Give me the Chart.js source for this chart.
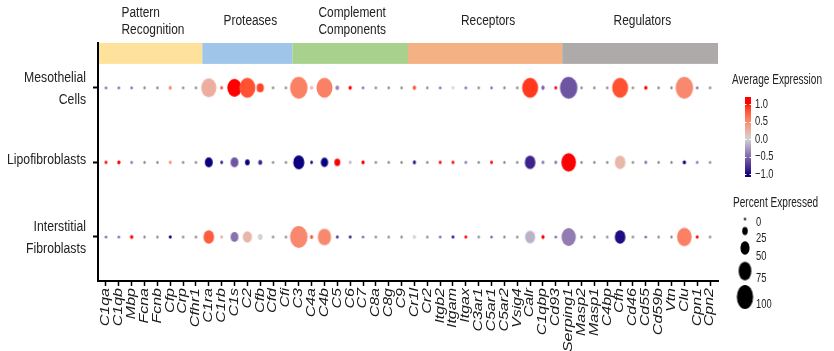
<!DOCTYPE html>
<html>
<head>
<meta charset="utf-8">
<title>Complement gene dot plot</title>
<script src="https://cdn.jsdelivr.net/npm/chart.js"></script>
<style>
  body { margin: 0; background: #fff; }
  #wrap { width: 834px; height: 351px; position: relative; }
</style>
</head>
<body>
<div id="wrap"><canvas id="dotPlot"></canvas></div>
<script>
// ---- data ----
const genes = ['C1qa','C1qb','Mbp','Fcna','Fcnb','Cfp','Crp','Cfhr1',
  'C1ra','C1rb','C1s','C2','Cfb','Cfd','Cfi',
  'C3','C4a','C4b','C5','C6','C7','C8a','C8g','C9',
  'Cr1l','Cr2','Itgb2','Itgam','Itgax','C3ar1','C5ar1','C5ar2','Vsig4','Calr','C1qbp','Cd93',
  'Serping1','Masp2','Masp1','C4bp','Cfh','Cd46','Cd55','Cd59b','Vtn','Clu','Cpn1','Cpn2'];

const groupNames = [['Pattern','Recognition'], ['Proteases'], ['Complement','Components'], ['Receptors'], ['Regulators']];
const groupSizes = [8, 7, 9, 12, 12];
const groupColors = ['#FEE29B', '#9FC5E8', '#A9D18E', '#F4B183', '#AEAAAA'];

const cellTypes = [['Mesothelial','Cells'], ['Lipofibroblasts'], ['Interstitial','Fibroblasts']];

// average expression (null = not detected, drawn grey)
const exprMeso = [-0.5,-0.5,-0.5,null,null,0.5,null,null,
  0.25,0.8,1.0,0.8,0.85,null,null,
  0.55,0.2,0.55,-0.4,1.0,-0.5,null,null,null,
  0.8,null,-0.5,0.0,-0.5,null,-0.5,null,null,0.9,-0.5,1.0,
  -0.6,null,null,null,0.8,null,1.0,null,null,0.5,-0.5,null];
const exprLipo = [1.0,1.0,-0.5,null,null,0.5,null,null,
  -1.0,-0.9,-0.6,-1.0,-0.85,null,null,
  -1.0,-1.0,-1.0,1.0,-0.15,1.0,null,null,null,
  -0.95,null,1.0,1.0,-0.5,null,1.0,null,null,-0.85,-0.5,-0.5,
  1.0,null,null,null,0.2,null,-0.5,null,null,-1.0,-0.5,null];
const exprInter = [-0.5,-0.5,1.0,null,null,-1.0,null,null,
  0.75,0.2,-0.45,0.2,0.0,null,null,
  0.5,0.8,0.5,-0.7,-0.8,-0.5,null,null,null,
  0.0,null,-0.5,-0.9,1.0,null,-0.5,null,null,-0.15,1.0,-0.5,
  -0.4,null,null,null,-0.95,null,-0.5,null,null,0.55,1.0,null];

// percent expressed
const pctMeso = [1,1,1,0,0,4,0,0,
  76,3,71,81,29,0,0,
  90,5,81,7,5,1,0,0,0,
  6,0,1,2,1,0,1,0,0,81,6,3,
  90,0,0,0,81,0,5,0,0,90,1,0];
const pctLipo = [3,5,1,0,0,3,0,0,
  33,3,33,14,10,0,0,
  52,2,30,21,2,5,0,0,0,
  4,0,3,3,1,0,3,0,0,49,2,2,
  73,0,0,0,49,0,2,0,0,5,1,0];
const pctInter = [1,1,5,0,0,3,0,0,
  49,3,33,41,14,0,0,
  90,4,65,3,3,1,0,0,0,
  5,0,1,2,2,0,1,0,0,46,5,1,
  71,0,0,0,49,0,1,0,0,73,3,0];

const exprRows = [exprMeso, exprLipo, exprInter];
const pctRows = [pctMeso, pctLipo, pctInter];

const exprBreaks = [1.0, 0.5, 0.0, -0.5, -1.0];
const exprBreakLabels = ['1.0', '0.5', '0.0', '\u22120.5', '\u22121.0'];
const pctBreaks = [0, 25, 50, 75, 100];

// ---- colour scale (lab interpolation low - mid - high) ----
const LOW = '#0A0080', MID = '#D3D3D3', HIGH = '#FF0000', NA_COL = '#8A8A8A';

function hexRgb(h) { return [1, 3, 5].map(i => parseInt(h.substr(i, 2), 16)); }
function toLin(c) { c /= 255; return c <= 0.04045 ? c / 12.92 : Math.pow((c + 0.055) / 1.055, 2.4); }
function fromLin(c) {
  c = c <= 0.0031308 ? 12.92 * c : 1.055 * Math.pow(c, 1 / 2.4) - 0.055;
  return Math.round(Math.max(0, Math.min(1, c)) * 255);
}
function rgbLab(rgb) {
  const [r, g, b] = rgb.map(toLin);
  const X = (0.4124 * r + 0.3576 * g + 0.1805 * b) / 0.95047;
  const Y = 0.2126 * r + 0.7152 * g + 0.0722 * b;
  const Z = (0.0193 * r + 0.1192 * g + 0.9505 * b) / 1.08883;
  const f = t => t > 0.008856 ? Math.cbrt(t) : 7.787 * t + 16 / 116;
  return [116 * f(Y) - 16, 500 * (f(X) - f(Y)), 200 * (f(Y) - f(Z))];
}
function labRgb([L, a, bb]) {
  const fy = (L + 16) / 116, fx = fy + a / 500, fz = fy - bb / 200;
  const fi = t => t * t * t > 0.008856 ? t * t * t : (t - 16 / 116) / 7.787;
  const X = 0.95047 * fi(fx), Y = fi(fy), Z = 1.08883 * fi(fz);
  const r = 3.2406 * X - 1.5372 * Y - 0.4986 * Z;
  const g = -0.9689 * X + 1.8758 * Y + 0.0415 * Z;
  const b = 0.0557 * X - 0.2040 * Y + 1.0570 * Z;
  return 'rgb(' + fromLin(r) + ',' + fromLin(g) + ',' + fromLin(b) + ')';
}
const labLow = rgbLab(hexRgb(LOW)), labMid = rgbLab(hexRgb(MID)), labHigh = rgbLab(hexRgb(HIGH));
function colorFor(v) {
  if (v === null) return NA_COL;
  v = Math.max(-1, Math.min(1, v));
  const end = v >= 0 ? labHigh : labLow, t = Math.abs(v);
  return labRgb(labMid.map((m, k) => m + (end[k] - m) * t));
}

// ---- dot sprites (slightly tall ellipses, like the squeezed figure) ----
const dotCache = {};
function dotSize(p) { return 3 + 0.21 * p; }
function dotImage(col, p, ratio) {
  const key = col + '|' + p + '|' + ratio;
  if (dotCache[key]) return dotCache[key];
  const h = dotSize(p), w = h * ratio;
  const c = document.createElement('canvas');
  c.width = Math.ceil(w) + 2; c.height = Math.ceil(h) + 2;
  const g = c.getContext('2d');
  g.fillStyle = col;
  g.beginPath();
  g.ellipse(c.width / 2, c.height / 2, w / 2, h / 2, 0, 0, Math.PI * 2);
  g.fill();
  dotCache[key] = c;
  return c;
}

// ---- squeezed text helper ----
const FONT = '"Liberation Sans", Arial, sans-serif';
function text(ctx, str, x, y, size, opt) {
  opt = opt || {};
  ctx.save();
  ctx.translate(x, y);
  if (opt.rotate) ctx.rotate(opt.rotate);
  ctx.scale(opt.sx || 1, opt.sy || 1);
  ctx.font = (opt.italic ? 'italic ' : '') + size + 'px ' + FONT;
  ctx.fillStyle = opt.color || '#222';
  ctx.textAlign = opt.align || 'left';
  ctx.textBaseline = 'middle';
  ctx.fillText(str, 0, 0);
  ctx.restore();
}
const SQ_TITLE = 0.85, SQ_ROW = 0.875, SQ_LEG = 0.72;

const decorPlugin = {
  id: 'decor',
  beforeDatasetsDraw(chart) {
    const ctx = chart.ctx, xs = chart.scales.x, ys = chart.scales.y, area = chart.chartArea;
    const yTop = ys.getPixelForValue(0.4), yBot = ys.getPixelForValue(0.68);
    let start = 0;
    groupSizes.forEach((n, gi) => {
      let x0 = gi === 0 ? area.left + 1 : xs.getPixelForValue(start - 0.5);
      let x1 = gi === groupSizes.length - 1 ? area.right : xs.getPixelForValue(start + n - 0.5);
      ctx.fillStyle = groupColors[gi];
      ctx.fillRect(x0, yTop, x1 - x0, yBot - yTop);
      start += n;
    });
  },
  afterDraw(chart) {
    const ctx = chart.ctx, xs = chart.scales.x, ys = chart.scales.y;
    // group titles
    let start = 0;
    groupSizes.forEach((n, gi) => {
      const cx = (xs.getPixelForValue(start - 0.5) + xs.getPixelForValue(start + n - 0.5)) / 2;
      const lines = groupNames[gi];
      ctx.font = '14px ' + FONT;
      const maxW = Math.max(...lines.map(l => ctx.measureText(l).width)) * SQ_TITLE;
      if (lines.length === 1) {
        text(ctx, lines[0], cx + 3, 21, 14, { sx: SQ_TITLE, align: 'center' });
      } else {
        lines.forEach((l, k) => text(ctx, l, cx + 2 - maxW / 2, 13 + k * 17, 14, { sx: SQ_TITLE }));
      }
      start += n;
    });
    // gene labels, vertical italic
    genes.forEach((g, i) => {
      text(ctx, g, xs.getPixelForValue(i), 288, 16, { rotate: -Math.PI / 2, sy: 0.76, italic: true, align: 'right', color: '#1a1a1a' });
    });
    // cell type labels
    cellTypes.forEach((lines, r) => {
      const y = ys.getPixelForValue(r + 1);
      if (lines.length === 1) {
        text(ctx, lines[0], 86, y - 2, 14, { sx: SQ_ROW, align: 'right' });
      } else {
        text(ctx, lines[0], 86, y - 10, 14, { sx: SQ_ROW, align: 'right' });
        text(ctx, lines[1], 86, y + 12, 14, { sx: SQ_ROW, align: 'right' });
      }
    });
    // colour legend
    text(ctx, 'Average Expression', 732, 80, 14, { sx: SQ_LEG });
    const barX = 745, barW = 6, barTop = 97, barBot = 177;
    const vPix = v => 139 - v * 35;
    for (let py = barTop; py < barBot; py++) {
      ctx.fillStyle = colorFor((139 - (py + 0.5)) / 35);
      ctx.fillRect(barX, py, barW, 1);
    }
    ctx.strokeStyle = '#fff';
    ctx.lineWidth = 1;
    exprBreaks.forEach((v, k) => {
      const py = Math.round(vPix(v)) + 0.5;
      ctx.beginPath();
      ctx.moveTo(barX, py); ctx.lineTo(barX + 1.5, py);
      ctx.moveTo(barX + barW - 1.5, py); ctx.lineTo(barX + barW, py);
      ctx.stroke();
      text(ctx, exprBreakLabels[k], 755, vPix(v), 13, { sx: SQ_LEG });
    });
    // size legend
    text(ctx, 'Percent Expressed', 733, 203, 14, { sx: SQ_LEG });
    const dotY = [219, 231, 248, 271, 297], labY = [222, 238, 256, 278, 304];
    pctBreaks.forEach((p, k) => {
      const img = dotImage('#000', p, 0.68);
      ctx.drawImage(img, 745 - img.width / 2, dotY[k] - img.height / 2);
      text(ctx, String(p), 756, labY[k], 13, { sx: SQ_LEG });
    });
  }
};

const datasets = exprRows.map((expr, r) => ({
  label: cellTypes[r].join(' '),
  data: genes.map((g, i) => ({ x: i, y: r + 1 })),
  pointRadius: 3,
  pointStyle: ctx => dotImage(colorFor(expr[ctx.dataIndex]), pctRows[r][ctx.dataIndex], 0.8)
}));

new Chart(document.getElementById('dotPlot'), {
  type: 'scatter',
  data: { datasets },
  options: {
    responsive: true,
    maintainAspectRatio: false,
    animation: false,
    events: [],
    layout: { padding: { top: 43, right: 116, left: 0, bottom: 0 } },
    plugins: { legend: { display: false }, tooltip: { enabled: false } },
    scales: {
      x: {
        type: 'linear', min: -0.62, max: 47.62,
        afterBuildTicks: s => { s.ticks = genes.map((g, i) => ({ value: i })); },
        afterFit: s => { s.height = 70; },
        ticks: { display: false },
        grid: { drawOnChartArea: false, drawTicks: true, tickLength: 5, tickColor: '#000', tickWidth: 1.5 },
        border: { display: true, color: '#000', width: 2 }
      },
      y: {
        type: 'linear', min: 0.4, max: 3.59, reverse: true,
        afterBuildTicks: s => { s.ticks = [{ value: 1 }, { value: 2 }, { value: 3 }]; },
        afterFit: s => { s.width = 98; },
        ticks: { display: false },
        grid: { drawOnChartArea: false, drawTicks: true, tickLength: 5, tickColor: '#000', tickWidth: 2 },
        border: { display: true, color: '#000', width: 2 }
      }
    }
  },
  plugins: [decorPlugin]
});
</script>
</body>
</html>
